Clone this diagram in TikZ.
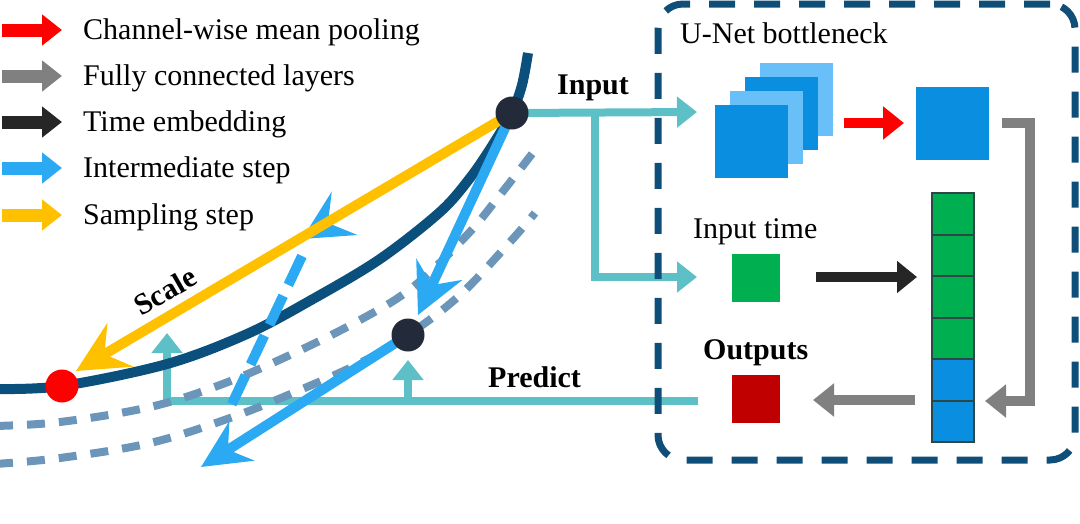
\documentclass[tikz,border=0pt]{standalone}
\usepackage{fontspec}
\setmainfont{Liberation Serif}
\usetikzlibrary{arrows.meta}
\definecolor{legred}{RGB}{255,0,0}
\definecolor{leggray}{RGB}{128,128,128}
\definecolor{legdark}{RGB}{38,38,38}
\definecolor{lblue}{RGB}{43,170,243}
\definecolor{ylw}{RGB}{255,192,0}
\definecolor{curvec}{RGB}{11,79,125}
\definecolor{dashc}{RGB}{107,150,186}
\definecolor{tealc}{RGB}{93,192,199}
\definecolor{dotc}{RGB}{35,43,58}
\definecolor{boxc}{RGB}{14,78,120}
\definecolor{sqlight}{RGB}{105,192,248}
\definecolor{sqblue}{RGB}{10,143,224}
\definecolor{sqgreen}{RGB}{0,176,80}
\definecolor{sqred}{RGB}{192,0,0}
\definecolor{cellb}{RGB}{45,70,70}
\tikzset{
  txt/.style={font=\fontsize{30}{36}\selectfont, inner sep=0pt, anchor=base west},
  btxt/.style={font=\fontsize{30}{36}\selectfont\bfseries, inner sep=0pt, anchor=base west},
  legarrow/.style={line width=13pt, -{Triangle[length=20pt,width=30pt]}},
  dotnode/.style={circle, fill=dotc, minimum size=33pt, inner sep=0pt},
  sq/.style={minimum size=73pt, inner sep=0pt},
  smallsq/.style={minimum size=48pt, inner sep=0pt},
  cell/.style={draw=cellb, line width=2pt, minimum width=42.6pt, minimum height=41.5pt, inner sep=0pt},
  tealarrow/.style={tealc, line width=8pt, -{Triangle[length=20pt,width=30pt]}},
  grayarrow/.style={leggray, line width=10pt, line join=miter, -{Triangle[length=21pt,width=32pt]}},
  dcurve/.style={dashc, line width=8pt, dash pattern=on 18pt off 14pt},
}
\begin{document}
\begin{tikzpicture}[x=1pt,y=-1pt]
\useasboundingbox (0,0) rectangle (1080,523);

% ---------- legend ----------
\foreach \yy/\cc/\lbl [count=\i] in {30/legred/Channel-wise mean pooling,76/leggray/Fully connected layers,122/legdark/Time embedding,168/lblue/Intermediate step,215/ylw/Sampling step}{
  \coordinate (la\i) at (2,\yy);
  \coordinate (lb\i) at (62,\yy);
  \draw[legarrow, \cc] (la\i) -- (lb\i);
  \node[txt] (lt\i) at (83,\yy+9) {\lbl};
}

% ---------- key coordinates ----------
\coordinate (p1) at (512,113);
\coordinate (p2) at (408,335);
\coordinate (pr) at (62,386);

% ---------- teal connectors ----------
\coordinate (inA) at (697,112);
\coordinate (inSplit) at (595,112);
\coordinate (inB) at (697,277);
\draw[tealarrow] (p1) -- (inA);
\draw[tealarrow] (inSplit) |- (inB);
\coordinate (outS) at (698,401);
\coordinate (prA) at (167,333);
\coordinate (prSplit) at (408,401);
\coordinate (prB) at (408,360);
\draw[tealarrow] (outS) -| (prA);
\draw[tealarrow] (prSplit) -- (prB);

% ---------- curves ----------
\draw[dcurve] plot[smooth, tension=0.6] coordinates {(-5,426) (60,422) (150,407) (220,385) (290,355) (360,320) (413,287) (467,235) (500,195) (535,150)};
\draw[dcurve] plot[smooth, tension=0.6] coordinates {(-5,464) (60,458) (150,443) (230,418) (300,390) (360,363) (408,335) (460,295) (510,242) (535,213)};
\draw[curvec, line width=10pt] plot[smooth, tension=0.55] coordinates {(-5,389) (62,386) (167,364) (247,334) (313,299) (380,259) (440,212) (470,178) (492,146) (512,112) (522,85) (528,53)};

% ---------- dashed intermediate step ----------
\coordinate (dA) at (302,256);
\coordinate (dB) at (230,408);
\draw[lblue, line width=10pt, dash pattern=on 32pt off 12pt] (dA) -- (dB);
\coordinate (hT) at (302,239);
\coordinate (hB1) at (331.8,191.5);
\coordinate (hN) at (328,223);
\coordinate (hB2) at (357.5,235);
\fill[lblue] (hT) -- (hB1) -- (hN) -- (hB2) -- cycle;

% ---------- sampling and intermediate arrows ----------
\coordinate (yT) at (76,371);
\draw[ylw, line width=10pt, -{Stealth[length=51pt,width=50pt,inset=18pt]}] (p1) -- (yT);
\coordinate (b1T) at (418,315);
\draw[lblue, line width=10pt, -{Stealth[length=50pt,width=50pt,inset=17pt]}] (p1) -- (b1T);
\coordinate (b2T) at (201,467);
\draw[lblue, line width=10pt, -{Stealth[length=48pt,width=46pt,inset=16pt]}] (p2) -- (b2T);

% ---------- dots ----------
\node[dotnode] (d1) at (p1) {};
\node[dotnode] (d2) at (p2) {};
\node[circle, fill=legred, minimum size=33pt, inner sep=0pt] (dr) at (pr) {};

% ---------- labels on left ----------
\node[btxt] (lin) at (557,94) {Input};
\node[btxt] (lpr) at (488,387) {Predict};
\node[font=\fontsize{30}{36}\selectfont\bfseries, inner sep=0pt, rotate=30] (lsc) at (165,291) {Scale};

% ---------- U-Net box ----------
\node[draw=boxc, line width=7pt, dash pattern=on 26pt off 19pt, rounded corners=25pt, minimum width=417pt, minimum height=456pt, inner sep=0pt] (box) at (866.5,232) {};
\node[txt] (lun) at (680,43.3) {U-Net bottleneck};
\node[sq, fill=sqlight] (s4) at (796,99) {};
\node[sq, fill=sqblue] (s3) at (781,113) {};
\node[sq, fill=sqlight] (s2) at (766,127) {};
\node[sq, fill=sqblue] (s1) at (751,141) {};
\node[sq, fill=sqblue] (pool) at (952.5,123.7) {};
\coordinate (rA) at (844,123);
\coordinate (rB) at (904,123);
\draw[legred, line width=10pt, -{Triangle[length=21pt,width=32pt]}] (rA) -- (rB);

\node[txt] (lit) at (693,238) {Input time};
\node[smallsq, fill=sqgreen] (tsq) at (756,278) {};
\coordinate (kA) at (816,277);
\coordinate (kB) at (917,277);
\draw[legdark, line width=10pt, -{Triangle[length=20pt,width=31pt]}] (kA) -- (kB);

\node[cell, fill=sqgreen] (v1) at (953,214.05) {};
\node[cell, fill=sqgreen] (v2) at (953,255.55) {};
\node[cell, fill=sqgreen] (v3) at (953,297.05) {};
\node[cell, fill=sqgreen] (v4) at (953,338.55) {};
\node[cell, fill=sqblue] (v5) at (953,380.05) {};
\node[cell, fill=sqblue] (v6) at (953,421.55) {};

\coordinate (gA) at (1002,123);
\coordinate (gC) at (1030,123);
\coordinate (gB) at (985,401);
\draw[grayarrow] (gA) -- (gC) |- (gB);

\node[btxt] (lout) at (703,359) {Outputs};
\node[smallsq, fill=sqred] (osq) at (756,399) {};
\coordinate (oA) at (915,400);
\coordinate (oB) at (813,400);
\draw[grayarrow] (oA) -- (oB);
\end{tikzpicture}
\end{document}
